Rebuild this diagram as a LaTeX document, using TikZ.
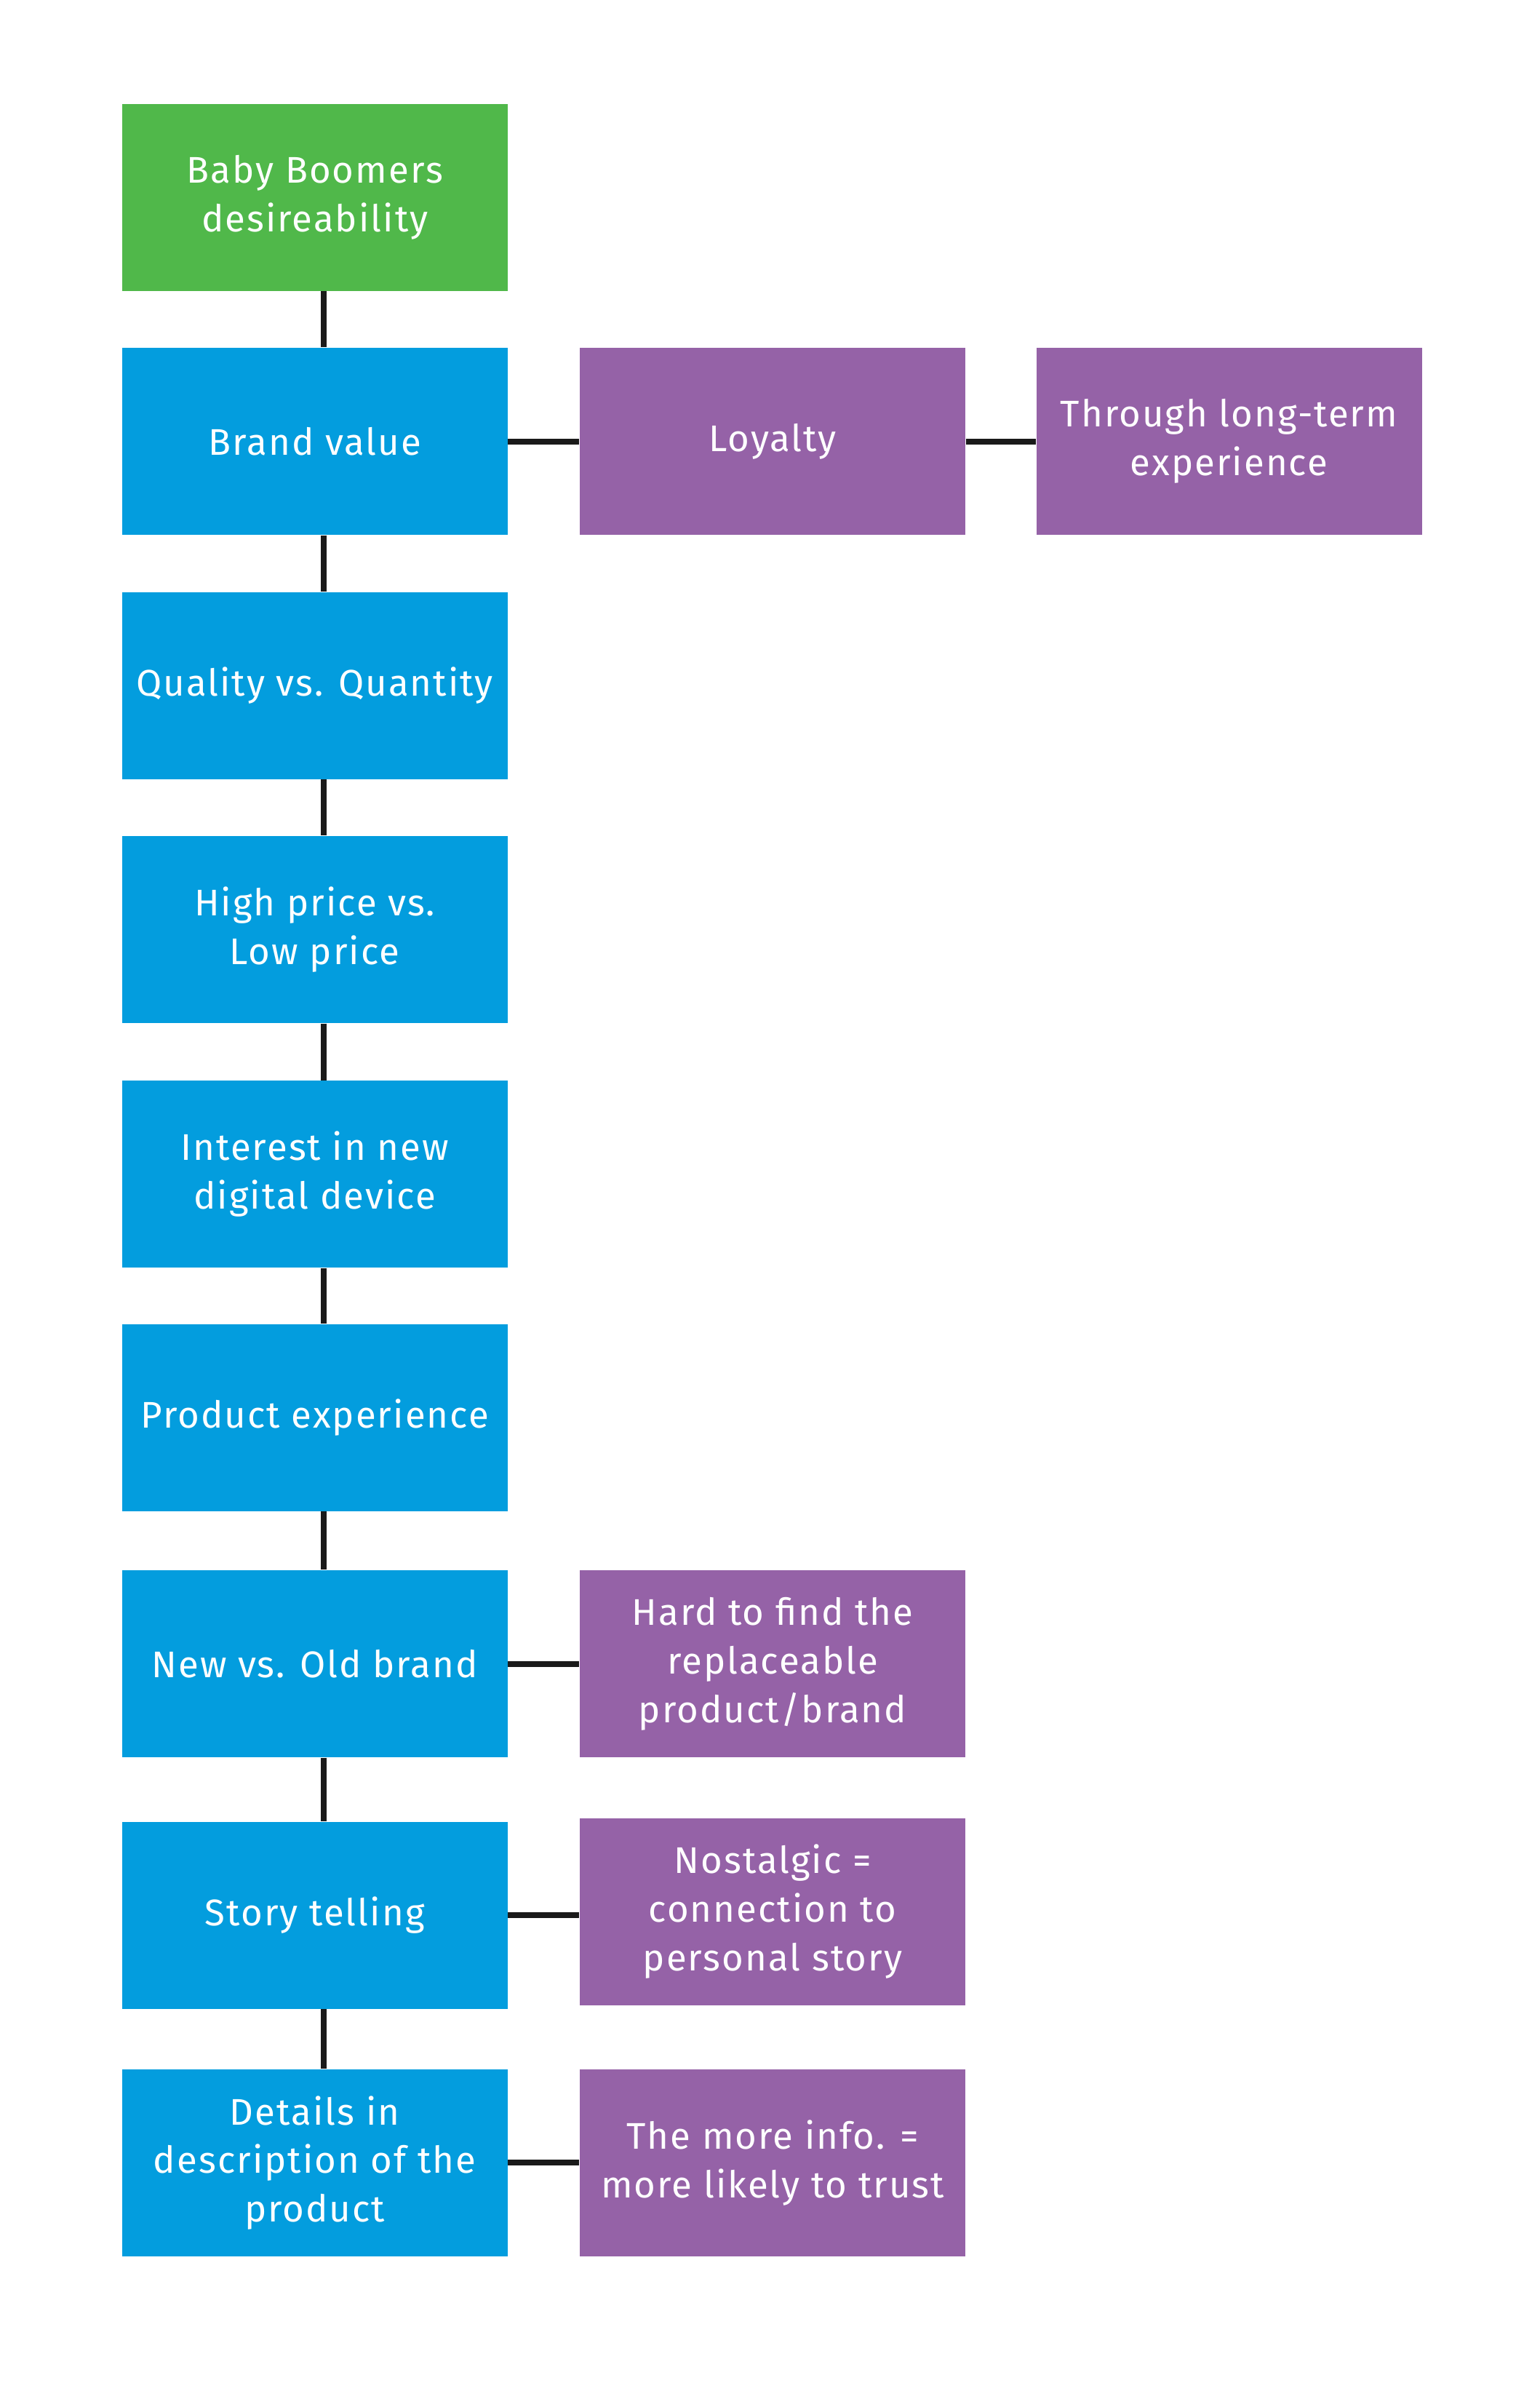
\documentclass[tikz,border=0pt]{standalone}
\usepackage{fontspec}
\setmainfont{Fira Sans}[LetterSpace=4]
\usepackage{xcolor}
\usepackage{tikz}
\usetikzlibrary{positioning}

\definecolor{boomgreen}{RGB}{80,184,74}
\definecolor{factblue}{RGB}{3,157,222}
\definecolor{notepurple}{RGB}{149,98,167}
\definecolor{linkblack}{RGB}{26,26,26}

\begin{document}
\begin{tikzpicture}[
    box/.style={align=center, text=white, font=\fontsize{14.5}{19}\selectfont, minimum width=5.3cm, minimum height=2.57cm, inner sep=0pt},
    topbox/.style={box, fill=boomgreen},
    factbox/.style={box, fill=factblue},
    notebox/.style={box, fill=notepurple},
    link/.style={draw=linkblack, line width=0.08cm},
    node distance=0.8cm
  ]
    \useasboundingbox (0,0) rectangle (21.17,-32.75);
    \node[topbox, anchor=north west] (boomers) at (1.67,-1.42) {Baby Boomers\\desireability};
    \node[factbox, below=0.77cm of boomers] (brand) {Brand value};
    \node[factbox, below=0.77cm of brand] (quality) {Quality vs. Quantity};
    \node[factbox, below=0.77cm of quality] (price) {High price vs.\\Low price};
    \node[factbox, below=0.78cm of price] (device) {Interest in new\\digital device};
    \node[factbox, below=0.76cm of device] (experience) {Product experience};
    \node[factbox, below=0.8cm of experience] (newold) {New vs. Old brand};
    \node[factbox, below=0.87cm of newold] (story) {Story telling};
    \node[factbox, below=0.82cm of story] (details) {Details in\\description of the\\product};
    \node[notebox, right=0.98cm of brand] (loyalty) {Loyalty};
    \node[notebox, right=0.96cm of loyalty] (longterm) {Through long-term\\experience};
    \node[notebox, right=0.98cm of newold] (replace) {Hard to find the\\replaceable\\product/brand};
    \node[notebox, right=0.98cm of story, yshift=0.05cm] (nostalgic) {Nostalgic =\\connection to\\personal story};
    \node[notebox, right=0.98cm of details] (trust) {The more info. =\\more likely to trust};
    % spine
    \foreach \a/\b in {boomers/brand, brand/quality, quality/price, price/device,
                       device/experience, experience/newold, newold/story, story/details}
      \draw[link] ([xshift=0.12cm]\a.south) -- ([xshift=0.12cm]\b.north);
    % side notes
    \draw[link] (brand) -- (loyalty);
    \draw[link] (loyalty) -- (longterm);
    \draw[link] (newold) -- (replace);
    \draw[link] (story.east) -- (story.east -| nostalgic.west);
    \draw[link] (details) -- (trust);
  \end{tikzpicture}
\end{document}
